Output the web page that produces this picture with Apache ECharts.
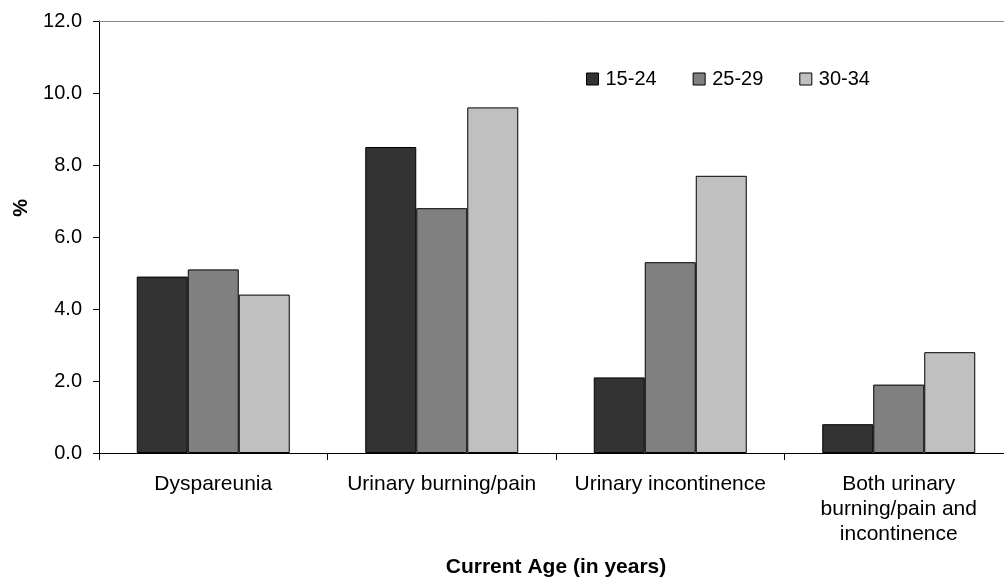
<!DOCTYPE html>
<html>
<head>
<meta charset="utf-8">
<script src="https://cdn.jsdelivr.net/npm/echarts@6/dist/echarts.min.js"></script>
<style>
html,body{margin:0;padding:0;background:#fff;overflow:hidden;}
#chart{width:1004px;height:578px;}
</style>
</head>
<body>
<div id="chart"></div>
<script>
var categories = ['Dyspareunia', 'Urinary burning/pain', 'Urinary incontinence', 'Both urinary\nburning/pain and\nincontinence'];
var seriesNames = ['15-24', '25-29', '30-34'];
var age15to24 = [4.9, 8.5, 2.1, 0.8];
var age25to29 = [5.1, 6.8, 5.3, 1.9];
var age30to34 = [4.4, 9.6, 7.7, 2.8];
var yTicks = [0, 2, 4, 6, 8, 10, 12];
var colors = ['#333333', '#808080', '#C0C0C0'];
var FONT = "'Liberation Sans', Arial, sans-serif";

var chart = echarts.init(document.getElementById('chart'), null, {renderer: 'canvas'});
var seriesData = [age15to24, age25to29, age30to34];
var option = {
  animation: false,
  backgroundColor: '#fff',
  textStyle: {fontFamily: FONT},
  grid: {left: 99, top: 21, width: 914, height: 432, containLabel: false, outerBoundsMode: 'none'},
  legend: {
    data: seriesNames,
    left: 581, top: 64,
    icon: 'rect', itemWidth: 12, itemHeight: 12, itemGap: 36,
    textStyle: {fontFamily: FONT, fontSize: 20, color: '#000', padding: [0, 0, 0, 2]},
    itemStyle: {borderColor: '#000', borderWidth: 1}
  },
  xAxis: [{
    type: 'category',
    data: categories,
    position: 'bottom',
    axisLine: {show: true, lineStyle: {color: '#000', width: 1}},
    axisTick: {show: true, length: 7, alignWithLabel: false, lineStyle: {color: '#000'}},
    axisLabel: {fontFamily: FONT, fontSize: 21, color: '#000', margin: 19, lineHeight: 25, interval: 0, align: 'center'},
    name: 'Current Age (in years)',
    nameLocation: 'middle',
    nameGap: 104,
    nameTextStyle: {fontFamily: FONT, fontSize: 21, fontWeight: 'bold', color: '#000'}
  }, {
    type: 'category',
    data: categories,
    position: 'top',
    axisLine: {show: true, lineStyle: {color: '#888', width: 1}},
    axisTick: {show: false},
    axisLabel: {show: false}
  }],
  yAxis: {
    type: 'value',
    min: yTicks[0], max: yTicks[yTicks.length - 1], interval: 2,
    axisLine: {show: true, lineStyle: {color: '#000', width: 1}},
    axisTick: {show: true, length: 6, lineStyle: {color: '#000'}},
    axisLabel: {fontFamily: FONT, fontSize: 20, color: '#000', margin: 17,
      formatter: function (v) { return v.toFixed(1); }},
    splitLine: {show: false}
  },
  graphic: [{
    type: 'text',
    left: 11, top: 199,
    rotation: Math.PI / 2,
    style: {text: '%', font: 'bold 20px ' + FONT, fill: '#000'}
  }],
  series: seriesNames.map(function (n, i) {
    return {
      name: n,
      type: 'bar',
      xAxisIndex: 0,
      data: seriesData[i],
      barWidth: 51,
      barGap: '0%',
      itemStyle: {color: colors[i], borderColor: '#000', borderWidth: 1}
    };
  })
};
chart.setOption(option);
</script>
</body>
</html>
